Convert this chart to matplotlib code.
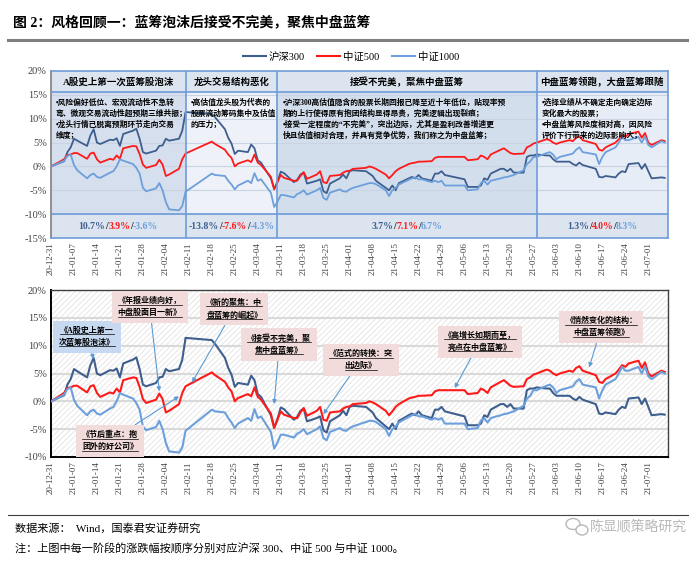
import matplotlib
matplotlib.use('Agg')
import matplotlib.pyplot as plt
import pandas as pd
from matplotlib.patches import Rectangle, Ellipse
from matplotlib.lines import Line2D
from matplotlib.text import Text
from matplotlib.offsetbox import TextArea, HPacker, AnnotationBbox

plt.rcParams['font.family'] = ['Liberation Serif', 'Noto Sans CJK SC']
plt.rcParams['hatch.linewidth'] = 0.6
plt.rcParams['axes.unicode_minus'] = False

# cumulative return since 2020-12-31 (%)
dates = ['2020-12-31',
         '2021-01-04', '2021-01-05', '2021-01-06', '2021-01-07', '2021-01-08', '2021-01-11', '2021-01-12',
         '2021-01-13', '2021-01-14', '2021-01-15', '2021-01-18', '2021-01-19', '2021-01-20', '2021-01-21',
         '2021-01-22', '2021-01-25', '2021-01-26', '2021-01-27', '2021-01-28', '2021-01-29',
         '2021-02-01', '2021-02-02', '2021-02-03', '2021-02-04', '2021-02-05', '2021-02-08', '2021-02-09',
         '2021-02-10', '2021-02-18', '2021-02-19', '2021-02-22', '2021-02-23', '2021-02-24', '2021-02-25',
         '2021-02-26',
         '2021-03-01', '2021-03-02', '2021-03-03', '2021-03-04', '2021-03-05', '2021-03-08', '2021-03-09',
         '2021-03-10', '2021-03-11', '2021-03-12', '2021-03-15', '2021-03-16', '2021-03-17', '2021-03-18',
         '2021-03-19', '2021-03-22', '2021-03-23', '2021-03-24', '2021-03-25', '2021-03-26', '2021-03-29',
         '2021-03-30', '2021-03-31',
         '2021-04-01', '2021-04-02', '2021-04-06', '2021-04-07', '2021-04-08', '2021-04-09', '2021-04-12',
         '2021-04-13', '2021-04-14', '2021-04-15', '2021-04-16', '2021-04-19', '2021-04-20', '2021-04-21',
         '2021-04-22', '2021-04-23', '2021-04-26', '2021-04-27', '2021-04-28', '2021-04-29', '2021-04-30',
         '2021-05-06', '2021-05-07', '2021-05-10', '2021-05-11', '2021-05-12', '2021-05-13', '2021-05-14',
         '2021-05-17', '2021-05-18', '2021-05-19', '2021-05-20', '2021-05-21', '2021-05-24', '2021-05-25',
         '2021-05-26', '2021-05-27', '2021-05-28', '2021-05-31',
         '2021-06-01', '2021-06-02', '2021-06-03', '2021-06-04', '2021-06-07', '2021-06-08', '2021-06-09',
         '2021-06-10', '2021-06-11', '2021-06-15', '2021-06-16', '2021-06-17', '2021-06-18', '2021-06-21',
         '2021-06-22', '2021-06-23', '2021-06-24', '2021-06-25', '2021-06-28', '2021-06-29', '2021-06-30',
         '2021-07-01', '2021-07-02', '2021-07-05', '2021-07-06']
hs300 = [0.0,
         1.1, 3.0, 4.0, 5.8, 5.4, 4.3, 6.5,
         7.8, 5.0, 4.7, 5.6, 5.5, 5.9, 4.3,
         6.8, 7.5, 7.9, 5.8, 3.0, 2.7,
         3.3, 4.3, 4.4, 5.8, 5.4, 5.8, 7.5,
         11.4, 11.0, 10.3, 7.8, 6.0, 4.8, 2.6,
         3.3,
         3.0, 4.6, 3.8, 1.3, 0.8, -2.5, -4.7,
         -3.2, -1.1, -1.4, -3.3, -2.8, -1.7, -1.3,
         -3.6, -3.0, -2.7, -5.2, -5.6, -3.6, -2.5,
         -1.7, -2.5,
         -1.0, -0.8, -1.0, -1.5, -2.0, -3.0, -4.5,
         -5.0, -4.0, -5.0, -3.5, -2.5, -2.2, -2.5,
         -1.8, -2.5, -3.0, -1.5, -1.5, -1.0, -1.8,
         -2.7, -4.3, -4.3, -4.0, -2.5, -2.8, -1.5,
         -0.5, -0.5, -1.0, -0.5, -1.3, -1.3, 2.0,
         2.3, 2.3, 2.5, 2.3,
         2.3, 1.5, 1.0, 1.0, 1.0, 0.5, 0.2,
         0.8, 0.3, -0.5, -2.2, -2.3, -2.0, -2.3,
         -1.5, -1.0, -1.2, 0.5, 0.7, -0.5, 0.5,
         -1.0, -2.5, -2.3, -2.4]
zz500 = [0.0,
         1.5, 2.4, 2.5, 2.8, 2.8, 1.6, 2.7,
         2.9, 1.5, 0.8, 1.6, 1.4, 2.3, 1.6,
         3.8, 4.3, 4.2, 2.6, 0.4, -0.3,
         0.3, 1.4, 0.4, -2.0, -1.7, -0.5, 1.5,
         2.7, 5.2, 4.7, 3.5, 2.5, 1.8, 0.0,
         0.6,
         1.3, 0.9, 2.5, 0.8, 0.3, -2.2, -4.8,
         -3.3, -1.8, -2.4, -3.0, -3.0, -2.0, -1.2,
         -2.6, -1.7, -1.0, -3.3, -3.5, -2.0, -1.8,
         -1.3, -1.0,
         -0.9, -0.5, -0.3, 0.0, -0.2, -0.5, -1.7,
         -2.5, -1.8, -1.0, -0.5, 0.5, 0.7, 0.8,
         1.0, 1.0, 1.1, 1.8, 2.0, 2.0, 2.0,
         2.0, 1.3, 1.5, 2.3, 2.0, 1.5, 2.5,
         3.5, 3.8, 3.3, 2.8, 2.6, 2.7, 4.0,
         4.3, 4.8, 5.0, 5.7,
         5.5, 5.0, 4.7, 5.0, 5.5, 5.3, 6.0,
         6.3, 5.5, 4.7, 3.5, 3.3, 4.0, 5.0,
         5.7, 6.5, 6.2, 6.8, 7.3, 6.0, 7.0,
         5.0, 4.5, 5.5, 5.3]
zz1000 = [0.0,
          1.2, 2.2, 2.5, 0.3, -0.8, -2.5, -1.8,
          -1.5, -2.2, -2.4, -1.3, -1.0, 0.0, 1.5,
          1.2, 0.5, -0.3, -1.5, -4.5, -5.2,
          -4.6, -3.5, -5.0, -7.5, -9.0, -9.2, -8.3,
          -5.3, -1.5, -1.8, -2.0, -3.0, -3.8, -4.8,
          -4.0,
          -3.0, -3.5, -1.4, -3.0, -2.7, -5.5, -8.5,
          -7.4, -6.0, -6.0, -6.5, -5.8, -5.5, -5.0,
          -5.9, -5.0, -4.5, -6.6, -7.0, -5.5, -4.8,
          -5.2, -5.3,
          -4.8, -4.5, -3.7, -3.5, -3.5, -3.7, -5.0,
          -6.2, -5.0, -4.5, -3.8, -2.8, -2.5, -2.3,
          -2.7, -2.7, -3.3, -3.0, -3.3, -3.0, -4.0,
          -4.0, -5.0, -4.8, -3.5, -3.0, -3.8, -3.0,
          -2.5, -2.3, -2.2, -2.0, -1.8, -0.8, 0.5,
          1.0, 2.0, 2.0, 2.8,
          3.0, 2.5, 1.5, 2.0, 2.5, 2.7, 3.5,
          4.0, 3.0, 2.5, 0.5, 2.0, 3.0, 4.0,
          5.0, 6.2, 5.5, 5.5, 6.2, 5.0, 6.3,
          4.5, 4.0, 5.3, 5.0]

series_names = ['沪深300', '中证500', '中证1000']
series_colors = ['#3E5F8E', '#FF1A1A', '#6C9FDB']

# stages of the top panel
stage_bounds = ['2020-12-31', '2021-02-10', '2021-03-10', '2021-05-28', '2021-07-07']
stage_titles = ['A股史上第一次蓝筹股泡沫', '龙头交易结构恶化', '接受不完美，聚焦中盘蓝筹', '中盘蓝筹领跑，大盘蓝筹跟随']
stage_notes = [
    '•风险偏好低位、宏观流动性不急转\n弯、微观交易流动性超预期三维共振；\n•龙头行情已脱离预期环节走向交易\n维度；',
    '•高估值龙头股为代表的\n股票流动筹码集中及估值\n的压力；',
    '•沪深300高估值隐含的股票长期回报已降至近十年低位，贴现率预\n期的上行使得原有抱团结构显得昂贵，完美逻辑出现裂痕；\n•接受一定程度的“不完美”，突出边际，尤其是盈利改善增速更\n快且估值相对合理，并具有竞争优势，我们称之为中盘蓝筹；',
    '•选择业绩从不确定走向确定边际\n变化最大的股票；\n•中盘蓝筹风险度相对高，因风险\n评价下行带来的边际影响大；',
]
stage_returns = [['10.7%', '3.9%', '-3.6%'],
                 ['-13.8%', '-7.6%', '-4.3%'],
                 ['3.7%', '7.1%', '6.7%'],
                 ['1.3%', '4.0%', '8.3%']]
stage_colors = ['#D5DFEE', '#EEF2F8', '#D3DEED', '#E7EDF6']

# report annotations of the bottom panel
notes_text = ['《A股史上第一\n次蓝筹股泡沫》', '《年报业绩向好，\n中盘股面目一新》', '《新的聚焦：中\n盘蓝筹的崛起》',
              '《接受不完美，聚\n焦中盘蓝筹》', '《节后重点：抱\n团外的好公司》', '《范式的转换：突\n出边际》',
              '《高增长如期而至，\n亮点在中盘蓝筹》', '《悄然变化的结构：\n中盘蓝筹领跑》']
notes_date = ['2021-01-13', '2021-02-02', '2021-02-12', '2021-03-09', '2021-02-08', '2021-03-24',
              '2021-05-03', '2021-06-13']
notes_value = [7.6, 1.8, 3.4, -0.5, 0.9, -2.3, 2.4, 6.1]
notes_pos = [(0.058, 0.72), (0.16, 0.898), (0.297, 0.886), (0.37, 0.674), (0.096, 0.096),
             (0.502, 0.58), (0.695, 0.69), (0.892, 0.778)]
notes_fc = ['#C6D9F0'] + ['#F2DCDB'] * 7
note_fs = 5.8

x = pd.to_datetime(dates)
bounds = pd.to_datetime(stage_bounds)
ticks = pd.date_range('2020-12-31', '2021-07-07', freq='7D')

W, H = 689, 563
fig = plt.figure(figsize=(W / 100, H / 100), dpi=100)
ax1 = fig.add_axes([51 / W, 1 - 238 / H, 617 / W, 167 / H])
ax2 = fig.add_axes([51 / W, 1 - 457 / H, 617 / W, 167 / H])

# title, frame lines, source
fig.text(13 / W, 1 - 22 / H, '图 2：风格回顾一：蓝筹泡沫后接受不完美，聚焦中盘蓝筹', fontsize=10,
         fontweight='bold', va='center', ha='left')
fig.add_artist(Line2D([8 / W, 1], [1 - 40 / H] * 2, color='#7F7F7F', lw=2.2))
fig.add_artist(Line2D([8 / W, 1], [1 - 515 / H] * 2, color='#404040', lw=0.8))
fig.text(15 / W, 1 - 528 / H, '数据来源：  Wind，国泰君安证券研究', fontsize=8, va='center')
fig.text(15 / W, 1 - 549 / H, '注：上图中每一阶段的涨跌幅按顺序分别对应沪深 300、中证 500 与中证 1000。',
         fontsize=8, va='center')
fig.text(638 / W, 1 - 527 / H, '陈显顺策略研究', fontsize=10, color='#B8B8B8', va='center', ha='center',
         family='Noto Sans CJK SC')
fig.add_artist(Ellipse((573 / W, 1 - 524 / H), 14 / W, 11 / H, fill=False, ec='#B8B8B8', lw=1.0,
                       transform=fig.transFigure))
fig.add_artist(Ellipse((582 / W, 1 - 530 / H), 12 / W, 10 / H, fc='white', ec='#B8B8B8', lw=1.0,
                       transform=fig.transFigure))

# ---------------- top panel ----------------
for i in range(4):
    ax1.axvspan(bounds[i], bounds[i + 1], color=stage_colors[i], lw=0, zorder=0)
    ax1.axvspan(bounds[i], bounds[i + 1], ymin=(15.5 + 15) / 35, ymax=1, color='#DCE4F0', lw=0, zorder=0.5)
    ax1.axvspan(bounds[i], bounds[i + 1], ymin=0, ymax=5 / 35, color='#DCE4F0', lw=0, zorder=0.5)
for v in [15, 10, 5, 0, -5, -10]:
    ax1.axhline(v, color='#C9D3E2', lw=0.8, zorder=1)
for b in bounds[1:-1]:
    ax1.axvline(b, color='#6F9CD8', lw=1.2, zorder=4)
ax1.axhline(15.5, color='#6F9CD8', lw=1.2, zorder=4)
ax1.axhline(-10, color='#6F9CD8', lw=1.2, zorder=4)

for ys, nm, c in zip([hs300, zz500, zz1000], series_names, series_colors):
    ax1.plot(x, ys, color=c, lw=1.3, label=nm, zorder=3)

for i in range(4):
    mid = bounds[i] + (bounds[i + 1] - bounds[i]) / 2
    ax1.text(mid, 17.75, stage_titles[i], ha='center', va='center', fontsize=6.8, fontweight='bold', zorder=5)
    ax1.text(bounds[i] + pd.Timedelta(days=1.5), 14.2, stage_notes[i], ha='left', va='top', fontsize=5.6,
             fontweight='bold', linespacing=1.45, zorder=5)
    parts = []
    for k, r in enumerate(stage_returns[i]):
        parts.append(TextArea(r, textprops=dict(color=series_colors[k], fontsize=7, fontweight='bold')))
        if k < 2:
            parts.append(TextArea('/', textprops=dict(color='#1F1F1F', fontsize=7, fontweight='bold')))
    box = HPacker(children=parts, align='center', pad=0, sep=0)
    ax1.add_artist(AnnotationBbox(box, (mid, -12.5), frameon=False, box_alignment=(0.5, 0.5), zorder=5))

ax1.set_ylim(-15, 20)
ax1.set_yticks(range(-15, 21, 5))
ax1.set_yticklabels([f'{v}%' for v in range(-15, 21, 5)])
for s in ['top', 'right', 'bottom']:
    ax1.spines[s].set_color('#6F9CD8')
    ax1.spines[s].set_linewidth(1.2)
ax1.spines['left'].set_color('#7F7F7F')
ax1.spines['left'].set_linewidth(1.2)

# ---------------- bottom panel ----------------
ax2.add_patch(Rectangle((0, 0), 1, 1, transform=ax2.transAxes, facecolor='white', edgecolor='#E3E3E3',
                        hatch='//////', lw=0, zorder=0))
for v in [15, 10, 5, 0, -5]:
    ax2.axhline(v, color='#D9D9D9', lw=1.5, zorder=1)
for ys, c in zip([hs300, zz500, zz1000], series_colors):
    ax2.plot(x, ys, color=c, lw=1.5, zorder=3)
ax2.set_ylim(-10, 20)
ax2.set_yticks(range(-10, 21, 5))
ax2.set_yticklabels([f'{v}%' for v in range(-10, 21, 5)])
for s in ['left', 'bottom']:
    ax2.spines[s].set_color('black')
    ax2.spines[s].set_linewidth(1.4)
for s in ['top', 'right']:
    ax2.spines[s].set_color('#404040')
    ax2.spines[s].set_linewidth(1.0)

anns = []
for t, d, v, p, fc in zip(notes_text, notes_date, notes_value, notes_pos, notes_fc):
    a = ax2.annotate(t, xy=(pd.Timestamp(d), v), xytext=p, textcoords='axes fraction', ha='center',
                     va='center', fontsize=note_fs, fontweight='bold', linespacing=1.6, zorder=6,
                     bbox=dict(boxstyle='square,pad=0.75', fc=fc, ec='none'),
                     arrowprops=dict(arrowstyle='-|>', color='#5B9BD5', lw=0.8, mutation_scale=6,
                                     shrinkA=0, shrinkB=0))
    anns.append(a)

for ax in [ax1, ax2]:
    ax.set_xlim(bounds[0], bounds[-1])
    ax.set_xticks(ticks)
    ax.set_xticklabels([t.strftime('%y-%m-%d') for t in ticks], rotation=90, fontsize=6.5, color='#404040')
    ax.tick_params(axis='y', labelsize=7.5, length=0, labelcolor='#404040', pad=3)
    ax.tick_params(axis='x', length=0, pad=3)
    ax.set_facecolor('white')

handles = [Line2D([], [], color=c, lw=1.5) for c in series_colors]
fig.legend(handles, series_names, loc='center', bbox_to_anchor=(351 / W, 1 - 57 / H), ncol=3, frameon=False,
           fontsize=7.5, handlelength=2.2, columnspacing=1.2, handletextpad=0.3)

# underline each line of the annotation boxes
fig.canvas.draw()
rend = fig.canvas.get_renderer()
for a in anns:
    bb = Text.get_window_extent(a, rend)
    lines = a.get_text().split('\n')
    sizes = []
    for ln in lines:
        tmp = fig.text(0, 0, ln, fontsize=note_fs, fontweight='bold')
        e = tmp.get_window_extent(rend)
        sizes.append((e.width, e.height))
        tmp.remove()
    h0 = sizes[0][1]
    step = (bb.height - h0) / max(len(lines) - 1, 1)
    cx = (bb.x0 + bb.x1) / 2
    for j, (w, h) in enumerate(sizes):
        yb = bb.y1 - j * step - h0 + 0.5
        fig.add_artist(Line2D([(cx - w / 2) / W, (cx + w / 2) / W], [yb / H] * 2, color='black', lw=0.5,
                              zorder=7))

fig.savefig('out.png', dpi=100)
